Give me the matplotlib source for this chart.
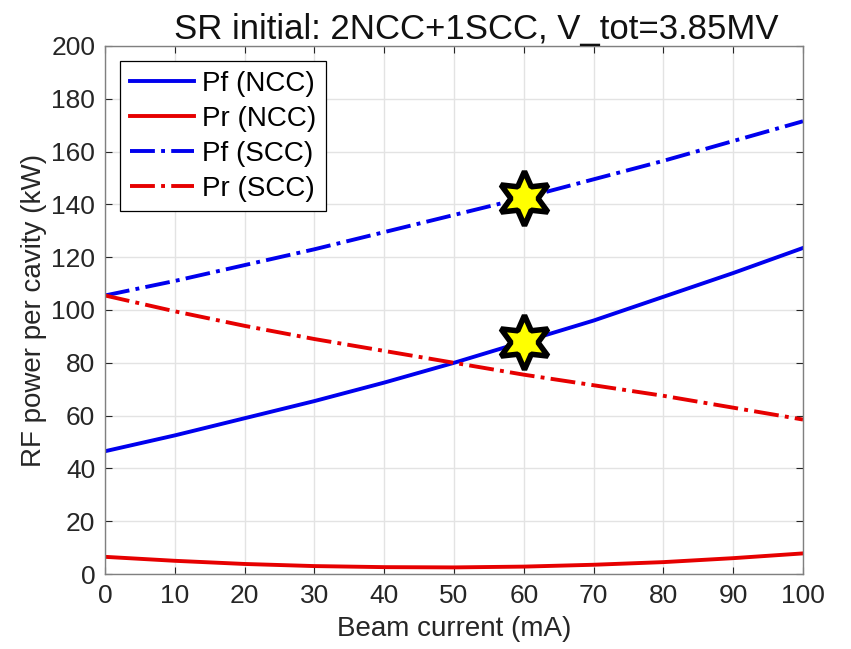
import matplotlib
matplotlib.use("Agg")
import matplotlib.pyplot as plt

plt.rcParams['font.family'] = ['Liberation Sans', 'DejaVu Sans']

current = [0, 10, 20, 30, 40, 50, 60, 70, 80, 90, 100]
pf_ncc = [46.5, 52.5, 59.0, 65.5, 72.5, 80.0, 88.0, 96.0, 105.0, 114.0, 123.5]
pr_ncc = [6.5, 5.0, 3.8, 3.0, 2.6, 2.5, 2.8, 3.5, 4.5, 6.0, 7.8]
pf_scc = [105.5, 111.0, 117.0, 123.0, 129.5, 136.0, 142.5, 149.5, 156.5, 164.0, 171.5]
pr_scc = [105.5, 99.5, 94.0, 89.0, 84.5, 80.0, 75.5, 71.5, 67.5, 63.0, 58.5]
star_x = [60, 60]
star_y = [142.5, 88.0]

fig = plt.figure(figsize=(8.51, 6.49), dpi=100)
ax = fig.add_axes([105/851, 75/649, 698/851, 528/649])

blue = '#0000ee'
red = '#e60000'
lw = 2.8
ax.plot(current, pf_ncc, '-', color=blue, lw=lw, label='Pf (NCC)')
ax.plot(current, pr_ncc, '-', color=red, lw=lw, label='Pr (NCC)')
ax.plot(current, pf_scc, '-.', color=blue, lw=lw, label='Pf (SCC)')
ax.plot(current, pr_scc, '-.', color=red, lw=lw, label='Pr (SCC)')
ax.plot(star_x, star_y, linestyle='none', marker=(6, 1, 0), markersize=39,
        markerfacecolor='yellow', markeredgecolor='black', markeredgewidth=4, zorder=5)

ax.set_xlim(0, 100)
ax.set_ylim(0, 200)
ax.set_xticks(range(0, 101, 10))
ax.set_yticks(range(0, 201, 20))
ax.grid(True, color='#e3e3e3', lw=1.0)
ax.set_axisbelow(True)
ax.tick_params(direction='in', top=True, right=True, labelsize=19, colors='#262626',
               length=5, pad=7)
for s in ax.spines.values():
    s.set_color('#808080')
    s.set_linewidth(1.0)

ax.set_xlabel('Beam current (mA)', fontsize=20, color='#262626', labelpad=6)
ax.set_ylabel('RF power per cavity (kW)', fontsize=20, color='#262626', labelpad=3)
ax.set_title('SR initial: 2NCC+1SCC, V_tot=3.85MV', fontsize=25, color='#111111',
             pad=5, x=0.532)

leg = ax.legend(loc='upper left', fontsize=20, frameon=True, fancybox=False,
                edgecolor='black', framealpha=1, borderaxespad=0.55,
                handlelength=2.3, labelspacing=0.32, borderpad=0.35,
                handletextpad=0.3)
leg.get_frame().set_linewidth(0.9)

fig.savefig('out.png', dpi=100)
